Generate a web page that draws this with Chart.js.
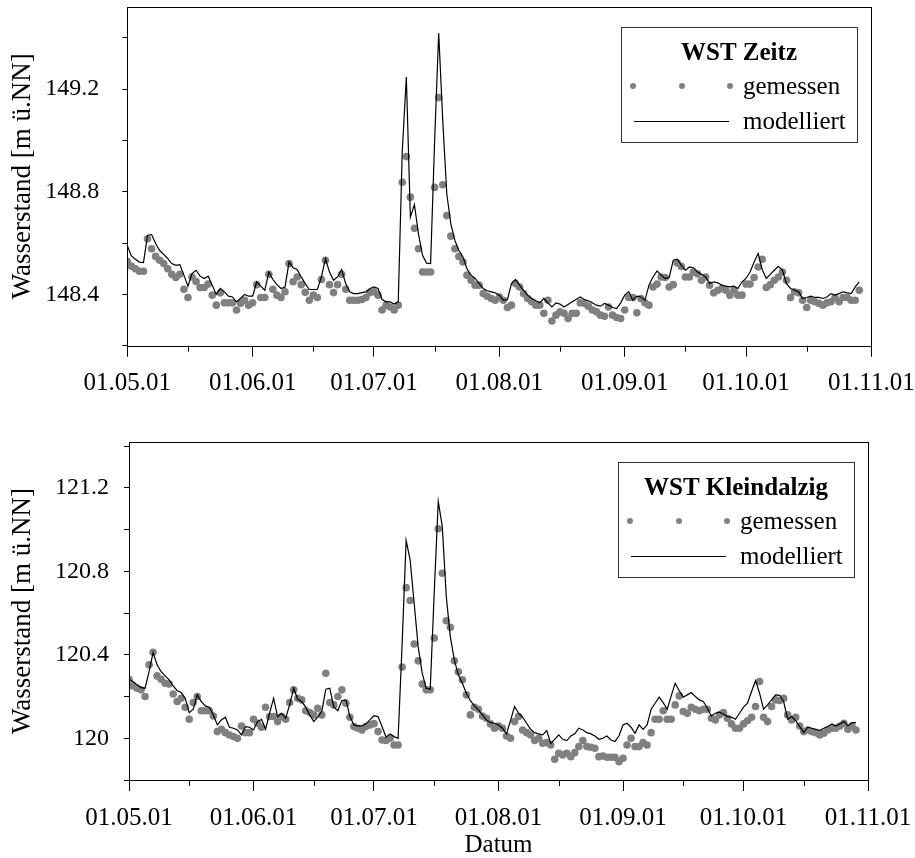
<!DOCTYPE html>
<html>
<head>
<meta charset="utf-8">
<title>Wasserstand Zeitz / Kleindalzig</title>
<script src="https://cdn.jsdelivr.net/npm/chart.js@4.4.0/dist/chart.umd.min.js"></script>
<style>
  html, body { margin: 0; padding: 0; background: #fff; }
  #wrap { position: relative; width: 915px; height: 858px; }
  canvas { position: absolute; left: 0; }
</style>
</head>
<body>
<div id="wrap">
  <canvas id="chartZeitz" width="915" height="420" style="top:0"></canvas>
  <canvas id="chartKleindalzig" width="915" height="438" style="top:420px"></canvas>
</div>
<script>
// daily values, index 0 = 01.05.01
const zeitzGemessen = [
  148.529, 148.51, 148.50, 148.49, 148.49, 148.617, 148.578, 148.548, 148.533, 148.52,
  148.50, 148.478, 148.466, 148.478, 148.42, 148.388, 148.468, 148.45, 148.427, 148.427,
  148.44, 148.397, 148.358, 148.406, 148.367, 148.367, 148.367, 148.339, 148.365, 148.377,
  148.358, 148.367, 148.438, 148.388, 148.388, 148.478, 148.42, 148.397, 148.388, 148.41,
  148.52, 148.449, 148.468, 148.438, 148.408, 148.377, 148.397, 148.388, 148.458, 148.533,
  148.438, 148.407, 148.438, 148.478, 148.42, 148.377, 148.377, 148.377, 148.38, 148.388,
  148.407, 148.41, 148.397, 148.339, 148.358, 148.351, 148.339, 148.358, 148.837, 148.937,
  148.779, 148.658, 148.578, 148.487, 148.487, 148.487, 148.817, 149.167, 148.827, 148.707,
  148.627, 148.578, 148.548, 148.526, 148.475, 148.455, 148.436, 148.436, 148.403, 148.393,
  148.384, 148.377, 148.39, 148.377, 148.349, 148.358, 148.442, 148.429, 148.403, 148.384,
  148.371, 148.358, 148.358, 148.326, 148.377, 148.296, 148.319, 148.332, 148.326, 148.306,
  148.326, 148.326, 148.367, 148.365, 148.354, 148.339, 148.332, 148.319, 148.315, 148.351,
  148.319, 148.31, 148.306, 148.339, 148.388, 148.388, 148.328, 148.384, 148.367, 148.358,
  148.429, 148.44, 148.468, 148.466, 148.429, 148.438, 148.522, 148.509, 148.468, 148.468,
  148.487, 148.48, 148.455, 148.468, 148.436, 148.406, 148.416, 148.423, 148.416, 148.397,
  148.416, 148.397, 148.397, 148.44, 148.44, 148.466, 148.507, 148.537, 148.427, 148.438,
  148.455, 148.468, 148.487, 148.455, 148.388, 148.41, 148.406, 148.377, 148.349, 148.377,
  148.371, 148.365, 148.358, 148.367, 148.371, 148.388, 148.371, 148.388, 148.388, 148.377,
  148.377, 148.416
];
const zeitzModelliert = [
  148.591, 148.55, 148.537, 148.526, 148.524, 148.63, 148.634, 148.598, 148.571, 148.556,
  148.539, 148.52, 148.513, 148.516, 148.475, 148.432, 148.481, 148.494, 148.471, 148.462,
  148.471, 148.436, 148.40, 148.423, 148.41, 148.393, 148.39, 148.371, 148.384, 148.40,
  148.393, 148.393, 148.449, 148.432, 148.416, 148.487, 148.458, 148.438, 148.423, 148.429,
  148.526, 148.504, 148.497, 148.468, 148.442, 148.419, 148.419, 148.419, 148.468, 148.539,
  148.487, 148.455, 148.468, 148.497, 148.442, 148.41, 148.403, 148.403, 148.407, 148.41,
  148.423, 148.429, 148.423, 148.38, 148.371, 148.371, 148.362, 148.371, 148.96, 149.247,
  148.701, 148.75, 148.636, 148.552, 148.522, 148.52, 149.0, 149.419, 149.08, 148.792,
  148.675, 148.61, 148.571, 148.546, 148.5, 148.475, 148.462, 148.442, 148.423, 148.414,
  148.41, 148.406, 148.397, 148.377, 148.38, 148.442, 148.458, 148.436, 148.416, 148.397,
  148.384, 148.375, 148.367, 148.384, 148.367, 148.351, 148.367, 148.362, 148.351, 148.361,
  148.371, 148.38, 148.39, 148.38, 148.375, 148.367, 148.358, 148.354, 148.365, 148.358,
  148.349, 148.345, 148.367, 148.397, 148.41, 148.377, 148.393, 148.39, 148.377, 148.436,
  148.468, 148.491, 148.475, 148.462, 148.466, 148.533, 148.537, 148.513, 148.494, 148.507,
  148.504, 148.487, 148.478, 148.468, 148.442, 148.449, 148.445, 148.436, 148.432, 148.429,
  148.432, 148.423, 148.449, 148.462, 148.487, 148.526, 148.559, 148.497, 148.462, 148.478,
  148.494, 148.509, 148.494, 148.442, 148.423, 148.416, 148.41, 148.384, 148.388, 148.393,
  148.388, 148.388, 148.384, 148.39, 148.403, 148.397, 148.403, 148.41, 148.406, 148.403,
  148.429, 148.449
];
const kleindalzigGemessen = [
  120.283, 120.251, 120.24, 120.232, 120.2, 120.352, 120.412, 120.299, 120.283, 120.264,
  120.26, 120.212, 120.176, 120.192, 120.149, 120.091, 120.171, 120.2, 120.132, 120.132,
  120.132, 120.107, 120.032, 120.043, 120.027, 120.016, 120.008, 120.0, 120.059, 120.027,
  120.027, 120.091, 120.072, 120.053, 120.149, 120.104, 120.104, 120.08, 120.104, 120.091,
  120.171, 120.232, 120.192, 120.184, 120.132, 120.123, 120.112, 120.144, 120.112, 120.312,
  120.171, 120.16, 120.2, 120.232, 120.168, 120.101, 120.056, 120.048, 120.04, 120.056,
  120.064, 120.07, 120.032, 119.992, 119.989, 120.0, 119.968, 119.968, 120.341, 120.722,
  120.66, 120.452, 120.371, 120.26, 120.232, 120.232, 120.48, 121.004, 120.791, 120.563,
  120.532, 120.371, 120.319, 120.28, 120.208, 120.112, 120.149, 120.139, 120.107, 120.096,
  120.069, 120.048, 120.059, 120.048, 120.011, 120.0, 120.08, 120.104, 120.04, 120.027,
  120.016, 119.989, 120.0, 119.976, 119.979, 119.968, 119.899, 119.928, 119.92, 119.928,
  119.912, 119.931, 119.96, 119.989, 119.96, 119.957, 119.952, 119.912, 119.915, 119.909,
  119.909, 119.909, 119.888, 119.904, 119.968, 120.0, 119.96, 119.96, 119.979, 119.968,
  120.027, 120.091, 120.091, 120.132, 120.091, 120.091, 120.16, 120.203, 120.128, 120.12,
  120.149, 120.139, 120.132, 120.139, 120.139, 120.096, 120.088, 120.112, 120.123, 120.096,
  120.069, 120.048, 120.048, 120.069, 120.084, 120.101, 120.152, 120.272, 120.101, 120.08,
  120.152, 120.184, 120.181, 120.192, 120.112, 120.088, 120.101, 120.059, 120.032, 120.04,
  120.032, 120.027, 120.016, 120.024, 120.04, 120.048, 120.048, 120.059, 120.072, 120.043,
  120.059, 120.04
];
const kleindalzigModelliert = [
  120.283, 120.272, 120.256, 120.243, 120.24, 120.319, 120.411, 120.352, 120.319, 120.299,
  120.28, 120.251, 120.228, 120.219, 120.192, 120.123, 120.139, 120.208, 120.176, 120.155,
  120.149, 120.112, 120.064, 120.088, 120.101, 120.053, 120.048, 120.04, 120.016, 120.056,
  120.053, 120.04, 120.08, 120.091, 120.043, 120.12, 120.192, 120.104, 120.12, 120.096,
  120.16, 120.24, 120.187, 120.176, 120.149, 120.112, 120.08, 120.101, 120.128, 120.235,
  120.24, 120.149, 120.132, 120.181, 120.184, 120.104, 120.064, 120.059, 120.059, 120.069,
  120.088, 120.108, 120.104, 120.056, 120.005, 120.021, 120.008, 120.0, 120.45, 120.948,
  120.855, 120.647, 120.439, 120.312, 120.24, 120.235, 120.70, 121.135, 121.015, 120.679,
  120.487, 120.376, 120.304, 120.264, 120.216, 120.18, 120.155, 120.136, 120.112, 120.088,
  120.075, 120.072, 120.064, 120.048, 120.021, 120.086, 120.152, 120.12, 120.101, 120.072,
  120.043, 120.027, 120.021, 120.016, 120.037, 119.976, 119.995, 120.016, 119.995, 119.989,
  120.011, 120.021, 120.048, 120.04, 120.027, 120.021, 120.011, 119.995, 120.0, 120.011,
  119.992, 119.984, 120.012, 120.064, 120.072, 120.053, 120.024, 120.064, 120.043, 120.064,
  120.139, 120.168, 120.197, 120.171, 120.139, 120.203, 120.264, 120.228, 120.197, 120.208,
  120.219, 120.2, 120.184, 120.176, 120.144, 120.107, 120.12, 120.125, 120.116, 120.104,
  120.101, 120.091, 120.12, 120.149, 120.168, 120.224, 120.276, 120.216, 120.139, 120.16,
  120.184, 120.208, 120.206, 120.176, 120.091, 120.104, 120.084, 120.056, 120.027, 120.053,
  120.048, 120.043, 120.037, 120.048, 120.056, 120.069, 120.059, 120.069, 120.08, 120.059,
  120.075, 120.075
];

// x axis: days since 01.05.01
const monthDays = [0, 31, 61, 92, 123, 153, 184];
const monthLabels = ['01.05.01', '01.06.01', '01.07.01', '01.08.01', '01.09.01', '01.10.01', '01.11.01'];
const midMonthDays = [15, 46, 76, 107, 138, 168];

// y axis ticks (every 0.2, labelled every 0.4)
const zeitzYTicks = [148.2, 148.4, 148.6, 148.8, 149.0, 149.2, 149.4];
const zeitzYLabels = ['', '148.4', '', '148.8', '', '149.2', ''];
const kleindalzigYTicks = [119.8, 120.0, 120.2, 120.4, 120.6, 120.8, 121.0, 121.2, 121.4];
const kleindalzigYLabels = ['', '120', '', '120.4', '', '120.8', '', '121.2', ''];

const FONT = "'Liberation Serif', 'Times New Roman', serif";
const POINT_GREY = '#808080';

function toPoints(values) {
    return values.map((v, i) => ({ x: i, y: v }));
}

// frame round the plot area + the short mid-month ticks
const framePlugin = {
    id: 'frame',
    afterDraw(chart) {
        const { ctx, chartArea: a, scales } = chart;
        ctx.save();
        ctx.strokeStyle = '#000';
        ctx.lineWidth = 1;
        ctx.strokeRect(Math.round(a.left) + 0.5, Math.round(a.top) + 0.5,
                       Math.round(a.right - a.left), Math.round(a.bottom - a.top));
        ctx.beginPath();
        midMonthDays.forEach(d => {
            const px = Math.round(scales.x.getPixelForValue(d)) + 0.5;
            ctx.moveTo(px, a.bottom);
            ctx.lineTo(px, a.bottom + 6);
        });
        ctx.stroke();
        ctx.restore();
    }
};

// legend box in the upper right corner, drawn by hand
const wstLegendPlugin = {
    id: 'wstLegend',
    afterDraw(chart, args, opts) {
        const { ctx, chartArea: a } = chart;
        const w = 236, h = 115;
        const left = Math.round(a.right - 14 - w), top = Math.round(a.top + 20);
        ctx.save();
        ctx.fillStyle = '#fff';
        ctx.fillRect(left, top, w, h);
        ctx.strokeStyle = '#333';
        ctx.lineWidth = 1;
        ctx.strokeRect(left + 0.5, top + 0.5, w, h);

        ctx.fillStyle = '#000';
        ctx.textBaseline = 'middle';
        ctx.textAlign = 'center';
        ctx.font = 'bold 25px ' + FONT;
        ctx.fillText(opts.title, left + w / 2, top + 27);

        ctx.fillStyle = POINT_GREY;
        [12, 61, 109].forEach(dx => {
            ctx.beginPath();
            ctx.arc(left + dx, top + 59, 3, 0, Math.PI * 2);
            ctx.fill();
        });
        ctx.strokeStyle = '#000';
        ctx.lineWidth = 1.2;
        ctx.beginPath();
        ctx.moveTo(left + 13, top + 94.5);
        ctx.lineTo(left + 108, top + 94.5);
        ctx.stroke();

        ctx.fillStyle = '#000';
        ctx.textAlign = 'left';
        ctx.font = '25px ' + FONT;
        ctx.fillText('gemessen', left + 122, top + 60);
        ctx.fillText('modelliert', left + 122, top + 95);
        ctx.restore();
    }
};

function makeChart(canvasId, cfg) {
    const ctx = document.getElementById(canvasId).getContext('2d');
    return new Chart(ctx, {
        type: 'scatter',
        data: {
            datasets: [
                {
                    label: 'modelliert',
                    data: toPoints(cfg.modelliert),
                    showLine: true,
                    borderColor: '#000',
                    borderWidth: 1.2,
                    pointRadius: 0,
                    tension: 0
                },
                {
                    label: 'gemessen',
                    data: toPoints(cfg.gemessen),
                    showLine: false,
                    pointRadius: 3.8,
                    pointBackgroundColor: POINT_GREY,
                    pointBorderWidth: 0,
                    borderColor: POINT_GREY
                }
            ]
        },
        options: {
            responsive: false,
            animation: false,
            layout: { padding: cfg.padding },
            plugins: {
                legend: { display: false },
                tooltip: { enabled: false },
                wstLegend: { title: cfg.title }
            },
            scales: {
                x: {
                    type: 'linear',
                    min: 0,
                    max: 184,
                    afterBuildTicks: s => { s.ticks = monthDays.map(v => ({ value: v })); },
                    afterFit: s => { s.height = cfg.xAxisHeight; s.paddingLeft = 0; s.paddingRight = 0; },
                    ticks: {
                        callback: (v, i) => monthLabels[i],
                        autoSkip: false,
                        maxRotation: 0,
                        padding: 12,
                        color: '#000',
                        font: { family: FONT, size: 25 }
                    },
                    grid: { drawOnChartArea: false, tickLength: 11, tickColor: '#000', tickWidth: 1 },
                    border: { display: false },
                    title: {
                        display: cfg.showDatum,
                        text: 'Datum',
                        color: '#000',
                        padding: 0,
                        font: { family: FONT, size: 25, lineHeight: 1 }
                    }
                },
                y: {
                    min: cfg.yTicks[0],
                    max: cfg.yMax,
                    afterBuildTicks: s => { s.ticks = cfg.yTicks.map(v => ({ value: v })); },
                    afterFit: s => { s.width = cfg.yAxisWidth; s.paddingTop = 0; s.paddingBottom = 0; },
                    ticks: {
                        callback: (v, i) => cfg.yLabels[i],
                        autoSkip: false,
                        padding: cfg.yLabelPadding,
                        color: '#000',
                        font: { family: FONT, size: 24 }
                    },
                    grid: { drawOnChartArea: false, tickLength: 5, tickColor: '#000', tickWidth: 1 },
                    border: { display: false },
                    title: {
                        display: true,
                        text: 'Wasserstand [m ü.NN]',
                        color: '#000',
                        padding: { top: 7, bottom: 0 },
                        font: { family: FONT, size: 27 }
                    }
                }
            }
        },
        plugins: [framePlugin, wstLegendPlugin]
    });
}

document.addEventListener('DOMContentLoaded', () => {
    makeChart('chartZeitz', {
        title: 'WST Zeitz',
        gemessen: zeitzGemessen,
        modelliert: zeitzModelliert,
        yTicks: zeitzYTicks,
        yLabels: zeitzYLabels,
        yMax: 149.52,
        yAxisWidth: 127.3,
        yLabelPadding: 23,
        xAxisHeight: 74.3,
        showDatum: false,
        padding: { top: 7, right: 43.6, bottom: 0, left: 0 }
    });
    makeChart('chartKleindalzig', {
        title: 'WST Kleindalzig',
        gemessen: kleindalzigGemessen,
        modelliert: kleindalzigModelliert,
        yTicks: kleindalzigYTicks,
        yLabels: kleindalzigYLabels,
        yMax: 121.42,
        yAxisWidth: 129,
        yLabelPadding: 15,
        xAxisHeight: 77.5,
        showDatum: true,
        padding: { top: 22, right: 47, bottom: 0.5, left: 0 }
    });
});
</script>
</body>
</html>
